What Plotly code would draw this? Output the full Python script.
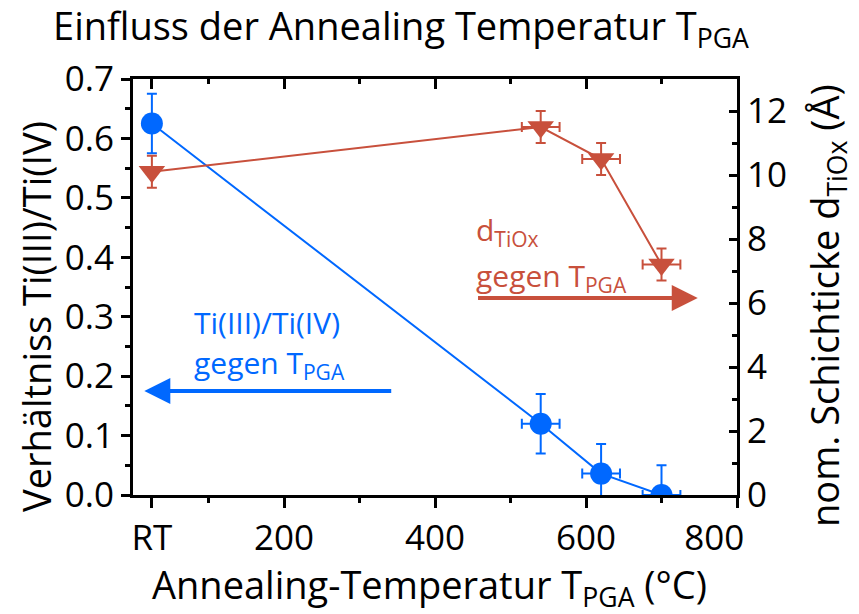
import plotly.graph_objects as go

# Annealing temperatures (RT plotted at 25 °C)
temp = [25, 540, 620, 700]
temp_err = [0, 25, 25, 25]
tick_vals = [25, 200, 400, 600, 800]
tick_text = ["RT", "200", "400", "600", "800" + "\u00a0" * 5]

# Ti(III)/Ti(IV) ratio (left axis)
ratio = [0.625, 0.12, 0.036, 0.0]
ratio_err = [0.05, 0.05, 0.05, 0.05]

# nominal TiOx layer thickness in Å (right axis)
thick = [10.1, 11.5, 10.5, 7.2]
thick_err = [0.5, 0.5, 0.5, 0.5]

BLUE = "rgb(0,104,255)"
RED = "rgb(200,80,60)"
FONT = "Open Sans"

W, H = 859, 614
L, R, T, B = 133, 122, 79, 119


def px_x(px):
    return (px - L) / (W - L - R)


def px_y(py):
    return (H - B - py) / (H - T - B)


fig = go.Figure()

fig.add_trace(go.Scatter(
    x=temp, y=thick, yaxis="y2", mode="lines+markers",
    line=dict(color=RED, width=2),
    marker=dict(symbol="triangle-down", size=23, color=RED),
    error_y=dict(type="data", array=thick_err, color=RED, thickness=2, width=5),
    error_x=dict(type="data", array=temp_err, color=RED, thickness=2, width=5),
    showlegend=False,
))

fig.add_trace(go.Scatter(
    x=temp, y=ratio, mode="lines+markers",
    line=dict(color=BLUE, width=2),
    marker=dict(symbol="circle", size=22, color=BLUE),
    error_y=dict(type="data", array=ratio_err, color=BLUE, thickness=2, width=5),
    error_x=dict(type="data", array=temp_err, color=BLUE, thickness=2, width=5),
    showlegend=False,
))

# invisible trace on the top axis so the mirrored ticks render
fig.add_trace(go.Scatter(x=[0], y=[0], xaxis="x2", mode="markers",
                         marker=dict(opacity=0), showlegend=False, hoverinfo="skip"))

tick_font = dict(family=FONT, size=35, color="black")
title_font = dict(family=FONT, size=38, color="black")

fig.update_layout(
    width=W, height=H,
    margin=dict(l=L, r=R, t=T, b=B),
    plot_bgcolor="white", paper_bgcolor="white",
    font=dict(family=FONT, color="black"),
    title=dict(
        text="Einfluss der Annealing Temperatur T<sub>PGA</sub>",
        font=title_font,
        x=401 / W, xanchor="center", xref="container",
        y=1 - 27 / H, yanchor="middle", yref="container",
    ),
    xaxis=dict(
        range=[0, 800], tickmode="array", tickvals=tick_vals, ticktext=tick_text,
        ticks="outside", ticklen=10, tickwidth=3, tickcolor="black",
        minor=dict(tickvals=[100, 300, 500, 700], ticks="outside", ticklen=5,
                   tickwidth=3, tickcolor="black"),
        showline=True, linewidth=3, linecolor="black", showgrid=False, zeroline=False,
        tickfont=tick_font,
    ),
    xaxis2=dict(
        range=[0, 800], overlaying="x", side="top", tickmode="array", tickvals=tick_vals,
        showticklabels=False, ticks="inside", ticklen=10, tickwidth=3, tickcolor="black",
        minor=dict(tickvals=[100, 300, 500, 700], ticks="inside", ticklen=5,
                   tickwidth=3, tickcolor="black"),
        showline=True, linewidth=3, linecolor="black", showgrid=False, zeroline=False,
    ),
    yaxis=dict(
        range=[0, 0.7], tickmode="array", tickvals=[0, 0.1, 0.2, 0.3, 0.4, 0.5, 0.6, 0.7],
        tickformat=".1f",
        ticks="outside", ticklen=9, tickwidth=3, tickcolor="black",
        minor=dict(tickvals=[0.05, 0.15, 0.25, 0.35, 0.45, 0.55, 0.65], ticks="outside",
                   ticklen=5, tickwidth=3, tickcolor="black"),
        showline=True, linewidth=3, linecolor="black", showgrid=False, zeroline=False,
        tickfont=tick_font,
    ),
    yaxis2=dict(
        range=[0, 13], overlaying="y", side="right", tickmode="array",
        tickvals=[0, 2, 4, 6, 8, 10, 12],
        ticks="inside", ticklen=8, tickwidth=3, tickcolor="black",
        minor=dict(tickvals=[1, 3, 5, 7, 9, 11], ticks="inside", ticklen=5,
                   tickwidth=3, tickcolor="black"),
        showline=True, linewidth=3, linecolor="black", showgrid=False, zeroline=False,
        tickfont=tick_font,
    ),
)

# axis titles
fig.add_annotation(x=px_x(429), y=px_y(586), xref="paper", yref="paper",
                   xanchor="center", yanchor="middle", showarrow=False,
                   text="Annealing-Temperatur T<sub>PGA</sub> (°C)", font=title_font)
fig.add_annotation(x=px_x(36), y=px_y(317), xref="paper", yref="paper",
                   xanchor="center", yanchor="middle", showarrow=False, textangle=-90,
                   text="Verhältniss Ti(III)/Ti(IV)", font=title_font)
fig.add_annotation(x=px_x(826), y=px_y(306), xref="paper", yref="paper",
                   xanchor="center", yanchor="middle", showarrow=False, textangle=-90,
                   text="nom. Schichticke d<sub>TiOx</sub> (Å)", font=title_font)

ann_font_b = dict(family=FONT, size=30, color=BLUE)
ann_font_r = dict(family=FONT, size=30, color=RED)

# direction arrows pointing at the axis each series belongs to
fig.add_annotation(x=15, y=0.175, ax=344, ay=0.175, xref="x", yref="y", axref="x", ayref="y",
                   text="", showarrow=True, arrowhead=2, arrowsize=1.3, arrowwidth=4,
                   arrowcolor=BLUE)
fig.add_annotation(x=748, y=6.16, ax=455, ay=6.16, xref="x", yref="y2", axref="x", ayref="y2",
                   text="", showarrow=True, arrowhead=2, arrowsize=1.3, arrowwidth=4,
                   arrowcolor=RED)

fig.add_annotation(x=78, y=0.29, xref="x", yref="y", xanchor="left", yanchor="middle",
                   text="Ti(III)/Ti(IV)", showarrow=False, font=ann_font_b)
fig.add_annotation(x=78, y=0.22, xref="x", yref="y", xanchor="left", yanchor="middle",
                   text="gegen T<sub>PGA</sub>", showarrow=False, font=ann_font_b)
fig.add_annotation(x=452, y=8.25, xref="x", yref="y2", xanchor="left", yanchor="middle",
                   text="d<sub>TiOx</sub>", showarrow=False, font=ann_font_r)
fig.add_annotation(x=452, y=6.8, xref="x", yref="y2", xanchor="left", yanchor="middle",
                   text="gegen T<sub>PGA</sub>", showarrow=False, font=ann_font_r)

fig.write_html("out.html")
